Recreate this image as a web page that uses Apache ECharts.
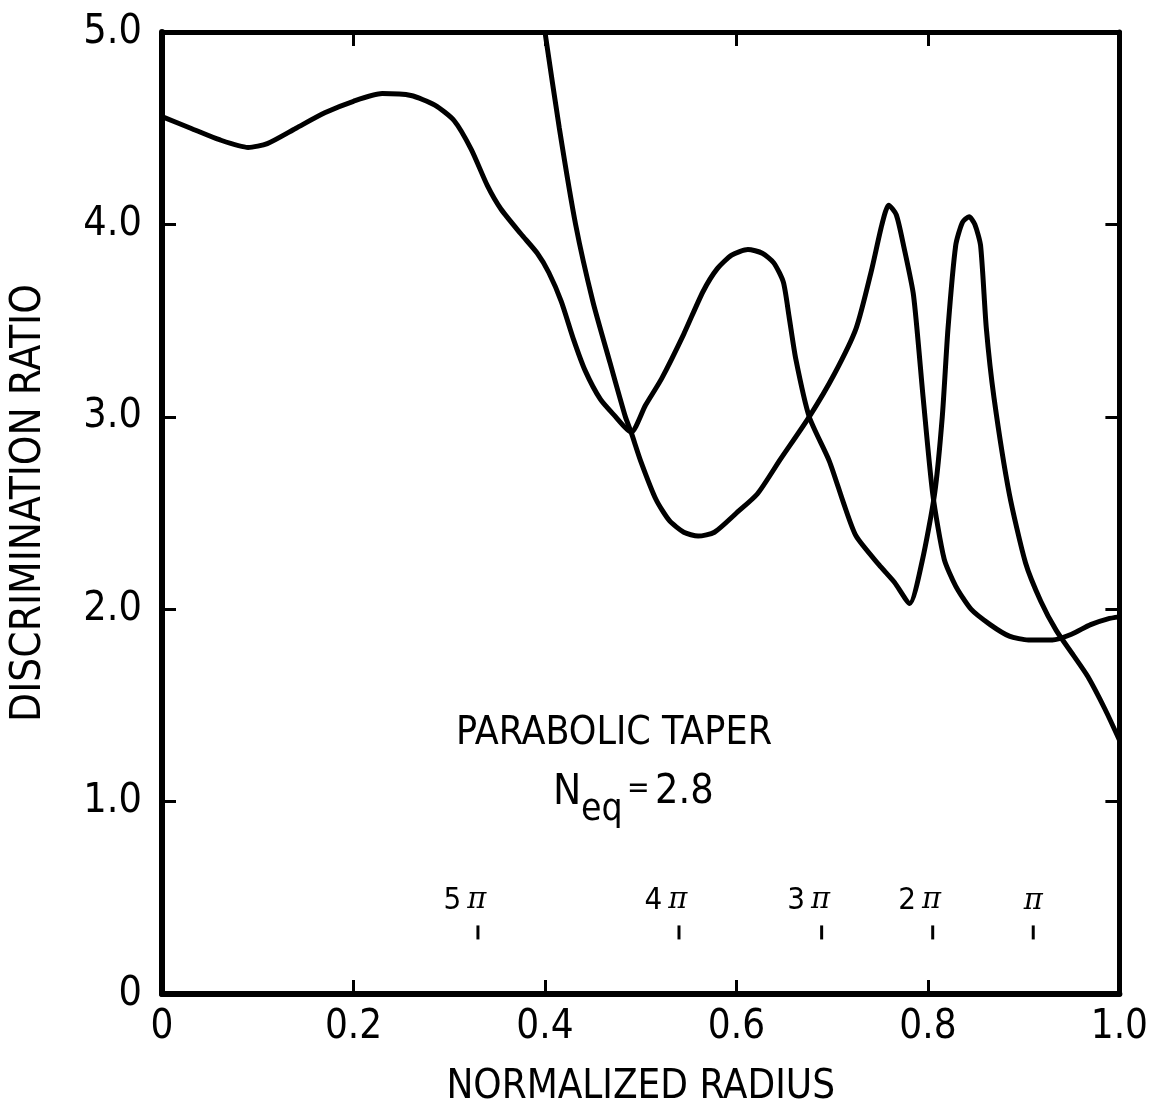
<!DOCTYPE html>
<html>
<head>
<meta charset="utf-8">
<title>Discrimination ratio - parabolic taper</title>
<script src="https://cdn.jsdelivr.net/npm/echarts@6/dist/echarts.min.js"></script>
<style>
  html, body { margin: 0; padding: 0; background: #fff; }
  #chart { width: 1151px; height: 1113px; }
</style>
</head>
<body>
<div id="chart"></div>
<script>
// curve that starts near 4.6 at the axis
const radiusA = [0, 0.03, 0.06, 0.09, 0.11, 0.14, 0.17, 0.2, 0.23, 0.26, 0.285, 0.305, 0.323, 0.34, 0.354, 0.375,
  0.392, 0.404, 0.417, 0.43, 0.442, 0.458, 0.472, 0.49, 0.505, 0.522, 0.545, 0.565, 0.58, 0.595, 0.612, 0.627,
  0.639, 0.649, 0.655, 0.662, 0.676, 0.697, 0.712, 0.725, 0.749, 0.765, 0.781, 0.794, 0.807, 0.815, 0.821,
  0.829, 0.836, 0.843, 0.849, 0.855, 0.861, 0.869, 0.885, 0.902, 0.918, 0.934, 0.952, 0.967, 0.985, 1.0];
const ratioA = [4.56, 4.50, 4.44, 4.40, 4.42, 4.50, 4.58, 4.64, 4.68, 4.67, 4.62, 4.54, 4.39, 4.20, 4.08, 3.95,
  3.85, 3.75, 3.60, 3.40, 3.24, 3.09, 3.01, 2.92, 3.06, 3.20, 3.43, 3.65, 3.77, 3.84, 3.87, 3.85,
  3.80, 3.70, 3.52, 3.30, 3.00, 2.77, 2.55, 2.38, 2.23, 2.14, 2.03, 2.25, 2.60, 3.00, 3.46,
  3.89, 4.01, 4.04, 4.00, 3.89, 3.46, 3.10, 2.60, 2.24, 2.04, 1.89, 1.76, 1.65, 1.48, 1.32];

// curve that comes down from the top at 0.4
const radiusB = [0.4, 0.415, 0.432, 0.45, 0.468, 0.484, 0.49, 0.5, 0.516, 0.53, 0.545, 0.56, 0.577, 0.6, 0.622,
  0.646, 0.676, 0.702, 0.725, 0.741, 0.752, 0.759, 0.767, 0.775, 0.785, 0.795, 0.805, 0.817, 0.829, 0.845,
  0.865, 0.885, 0.905, 0.93, 0.95, 0.97, 0.988, 1.0];
const ratioB = [5.0, 4.5, 4.0, 3.6, 3.28, 3.0, 2.92, 2.77, 2.57, 2.46, 2.40, 2.38, 2.40, 2.50, 2.60,
  2.78, 3.00, 3.22, 3.46, 3.76, 4.00, 4.10, 4.05, 3.88, 3.63, 3.10, 2.60, 2.26, 2.12, 2.00,
  1.92, 1.86, 1.84, 1.84, 1.87, 1.92, 1.95, 1.96];

// phase markers along the bottom
const phaseLabels = ['5', '4', '3', '2', ''];
const phaseRadius = [0.330, 0.540, 0.689, 0.805, 0.910];
const phaseLevel = 0.32;

const xTicks = ['0', '0.2', '0.4', '0.6', '0.8', '1.0'];
const yTicks = ['0', '1.0', '2.0', '3.0', '4.0', '5.0'];

const font = '"DejaVu Sans Condensed", "Liberation Sans Narrow", "Liberation Sans", sans-serif';
const piFont = '"DejaVu Serif", "Liberation Serif", serif';

function pairs(xs, ys) {
  return xs.map((x, i) => [x, ys[i]]);
}

const frameAxis = (w) => ({
  axisLine: { show: true, onZero: false, lineStyle: { color: '#000', width: w } },
  axisTick: { show: true, inside: true, length: 14, lineStyle: { color: '#000', width: 3 } },
  splitLine: { show: false }
});

const chart = echarts.init(document.getElementById('chart'));
chart.setOption({
  backgroundColor: '#fff',
  animation: false,
  grid: { left: 160, right: 31, top: 32, bottom: 118 },
  xAxis: [
    Object.assign({
      type: 'value', min: 0, max: 1, interval: 0.2, position: 'bottom',
      name: 'NORMALIZED RADIUS', nameLocation: 'middle', nameGap: 74,
      nameTextStyle: { fontSize: 40, color: '#000', fontFamily: font },
      axisLabel: {
        color: '#000', fontSize: 40, fontFamily: font, margin: 14,
        formatter: (v) => xTicks[Math.round(v / 0.2)]
      }
    }, frameAxis(6)),
    Object.assign({
      type: 'value', min: 0, max: 1, interval: 0.2, position: 'top',
      axisLabel: { show: false }
    }, frameAxis(5))
  ],
  yAxis: [
    Object.assign({
      type: 'value', min: 0, max: 5, interval: 1, position: 'left',
      name: 'DISCRIMINATION RATIO', nameLocation: 'middle', nameGap: 112,
      nameTextStyle: { fontSize: 42, color: '#000', fontFamily: font, padding: [0, 0, 0, 20] },
      axisLabel: {
        color: '#000', fontSize: 41, fontFamily: font, margin: 20,
        formatter: (v) => yTicks[Math.round(v)]
      }
    }, frameAxis(6)),
    Object.assign({
      type: 'value', min: 0, max: 5, interval: 1, position: 'right',
      axisLabel: { show: false }
    }, frameAxis(5))
  ],
  series: [
    {
      type: 'line', data: pairs(radiusA, ratioA), smooth: 0.22, symbol: 'none',
      lineStyle: { color: '#000', width: 5 }
    },
    {
      type: 'line', data: pairs(radiusB, ratioB), smooth: 0.22, symbol: 'none',
      lineStyle: { color: '#000', width: 5 }
    },
    {
      type: 'scatter',
      data: phaseRadius.map((r, i) => ({
        value: [r, phaseLevel], name: phaseLabels[i],
        label: { offset: [phaseLabels[i] ? -13 : 0, 0] }
      })),
      symbol: 'rect', symbolSize: [3, 14],
      itemStyle: { color: '#000', opacity: 1 },
      label: {
        show: true, position: 'top', distance: 9,
        formatter: (p) => (p.name ? '{d|' + p.name + '}' : '') + '{p|π}',
        color: '#000',
        rich: {
          d: { fontSize: 31, fontFamily: font, color: '#000', padding: [0, 6, 0, 0] },
          p: { fontSize: 29, fontStyle: 'italic', fontFamily: piFont, color: '#000' }
        }
      }
    }
  ],
  graphic: [
    { type: 'text', left: 456, top: 714, style: { text: 'PARABOLIC TAPER', font: '39px ' + font, fill: '#000' } },
    { type: 'text', left: 553, top: 772, style: { text: 'N', font: '42px ' + font, fill: '#000' } },
    { type: 'text', left: 581, top: 792, style: { text: 'eq', font: '37px ' + font, fill: '#000' } },
    { type: 'text', left: 627, top: 774, style: { text: '=', font: '30px ' + font, fill: '#000' } },
    { type: 'text', left: 655, top: 772, style: { text: '2.8', font: '41px ' + font, fill: '#000' } }
  ]
});
</script>
</body>
</html>
